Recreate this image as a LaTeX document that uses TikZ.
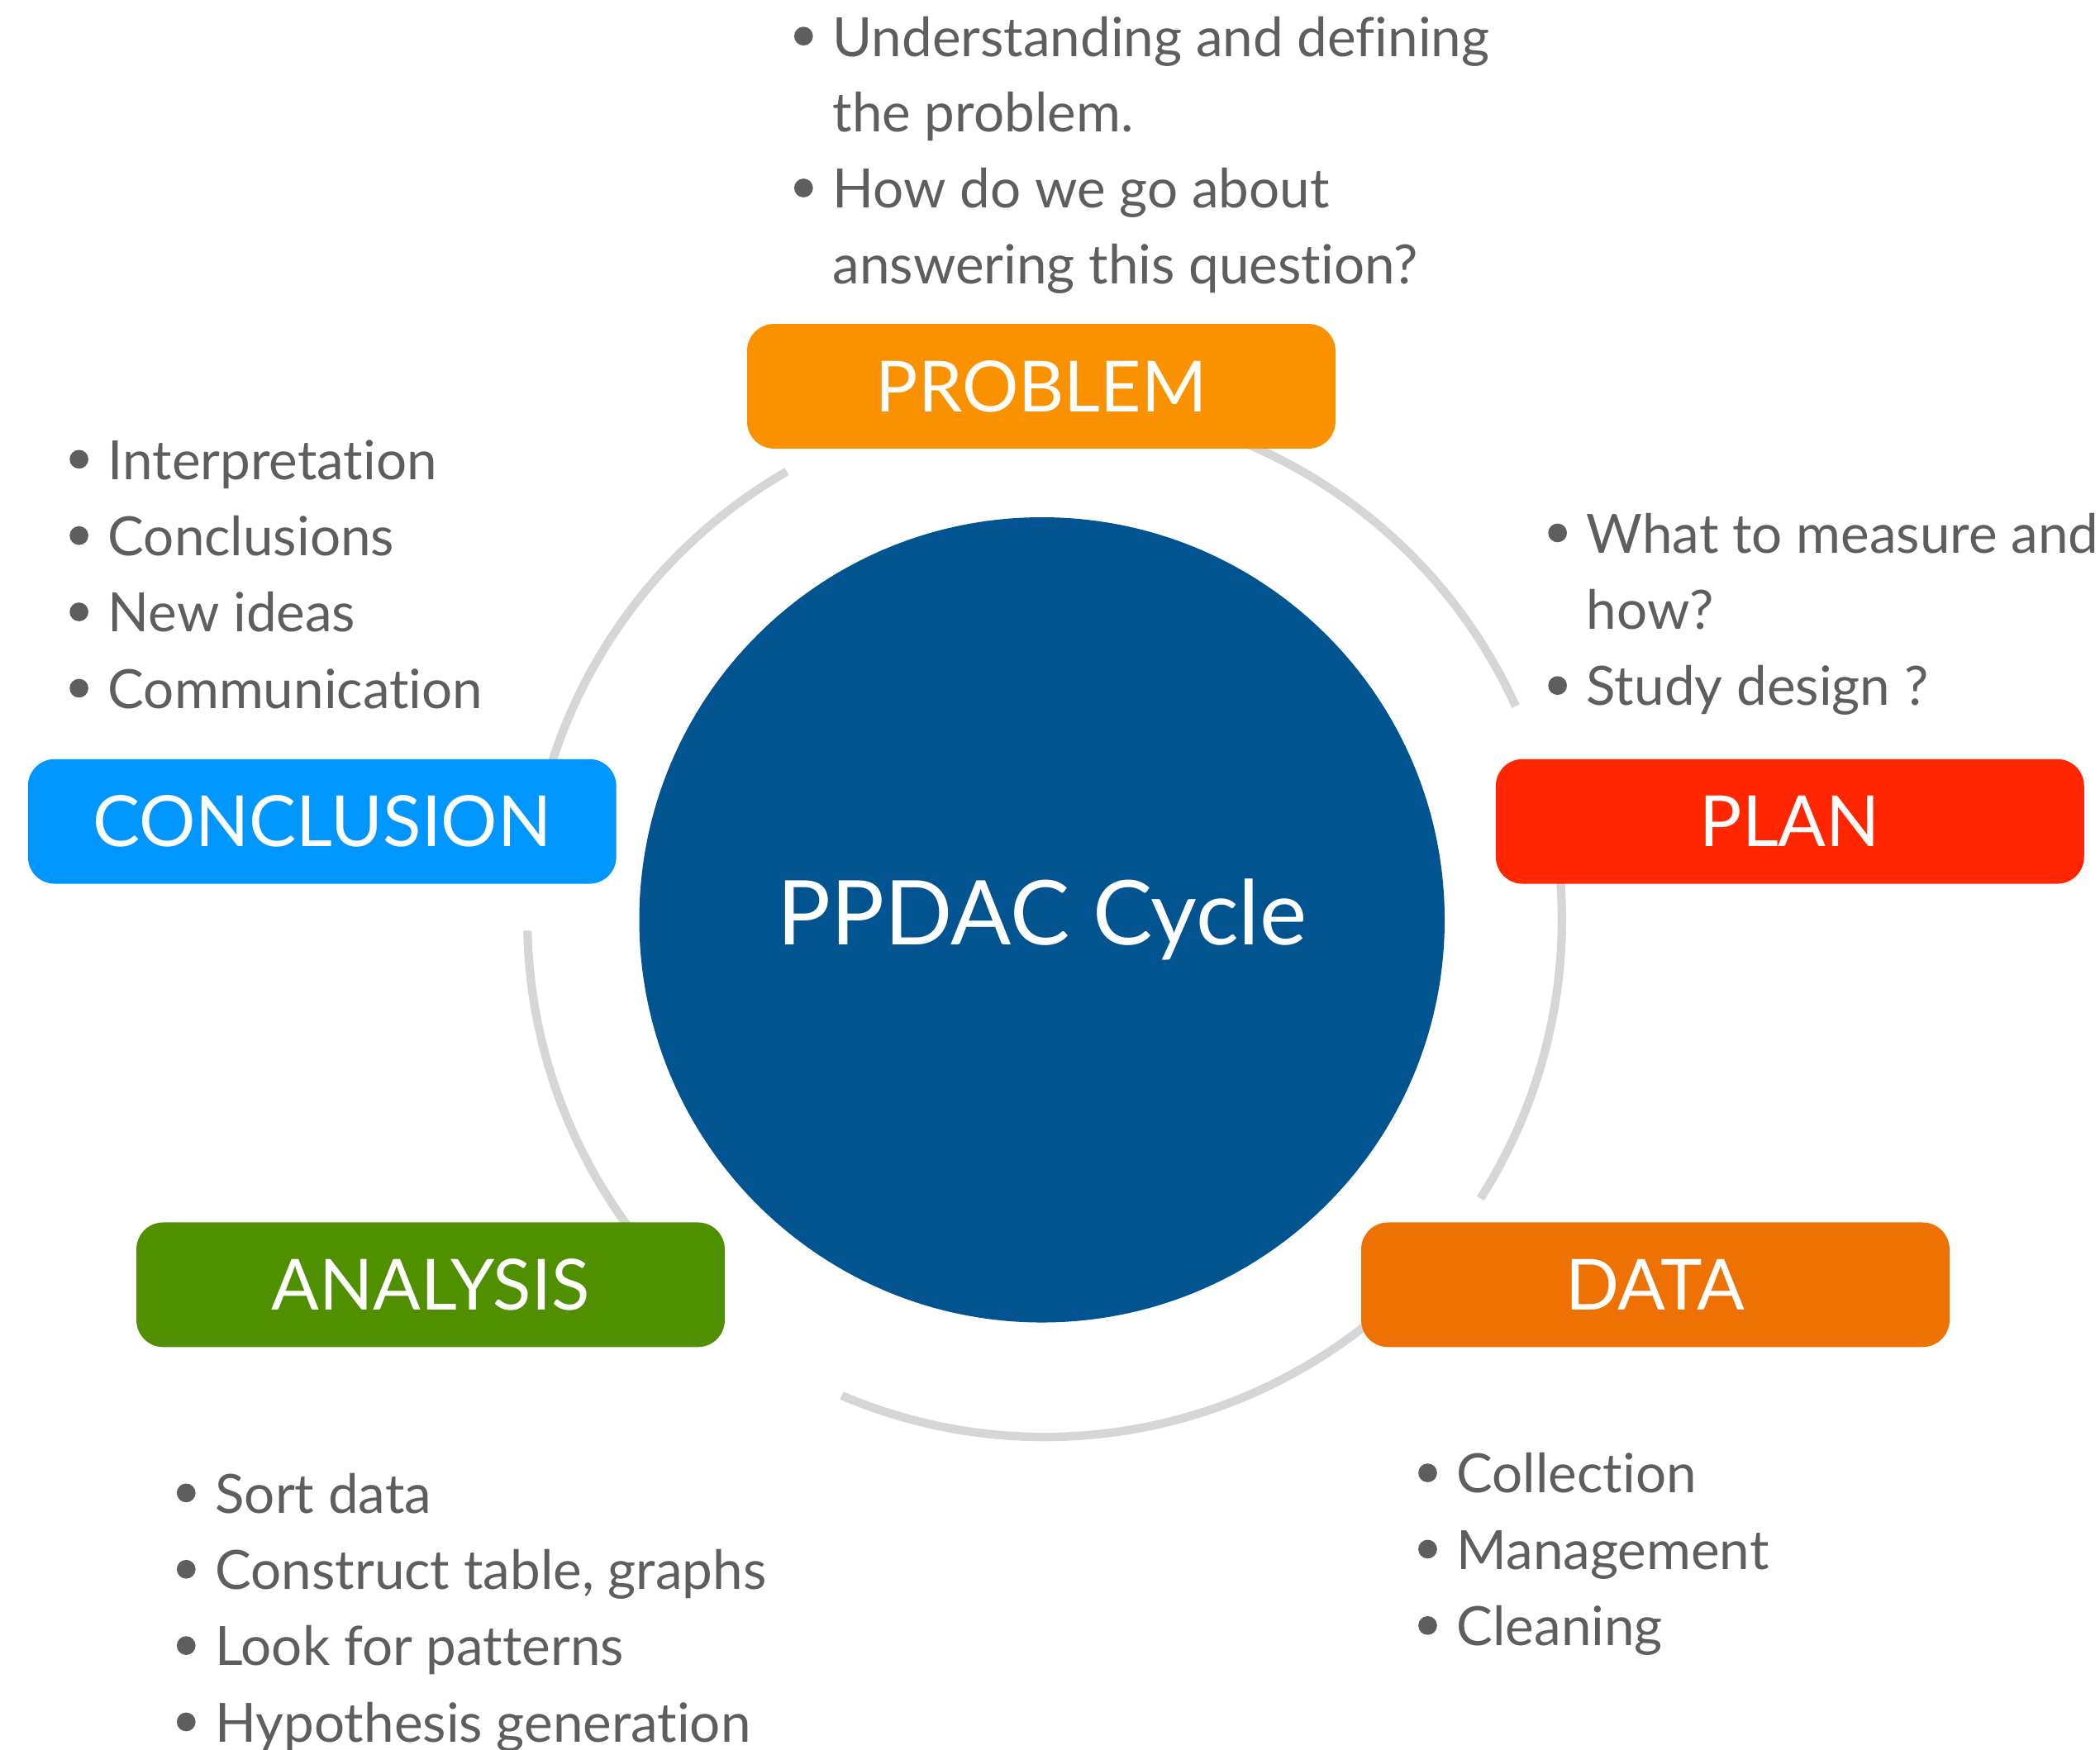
\documentclass[tikz,border=0pt]{standalone}
\usepackage{fontspec}
\setmainfont{Lato}[Ligatures = {NoCommon}]

\definecolor{hubblue}{HTML}{01548F}
\definecolor{probc}{HTML}{FA9200}
\definecolor{planc}{HTML}{FF2600}
\definecolor{datac}{HTML}{EE7203}
\definecolor{analc}{HTML}{4F8F00}
\definecolor{concc}{HTML}{0096FF}
\definecolor{ringc}{HTML}{D6D6D6}
\definecolor{notec}{HTML}{5E5E5E}

\tikzset{
	phase/.style = {rounded corners = 0.2cm, minimum width = 4.39cm, minimum height = 0.93cm, inner sep = 0, text = white, font = \fontsize{15}{18}\selectfont},
	ring/.style = {draw = ringc, line width = 1.8pt},
	item/.style = {anchor = base west, inner sep = 0, text = notec, font = \fontsize{11.5}{14}\selectfont},
	bulletdot/.style = {fill = notec}
}

\begin{document}
\begin{tikzpicture}[x = 0.01cm, y = 0.01cm]
	\useasboundingbox (0, 0) rectangle (1568, -1307);
	
	\coordinate (ringc) at (780, -687);
	\foreach \a/\b in {24.4/80, 119.9/170, 181.2/225, 246.9/315, 327.4/370}
		\draw [ring] ([shift = {(\a:3.86cm)}] ringc) arc [start angle = \a, end angle = \b, radius = 3.86cm];
	
	\node [circle, fill = hubblue, minimum size = 6.01cm, text = white, font = \fontsize{19}{23}\selectfont] (hub) at (778, -687) {PPDAC Cycle};
	
	\node [phase, fill = probc] (problem) at (777.5, -288.5) {PROBLEM};
	\node [phase, fill = planc] (plan) at (1336.5, -613.5) {PLAN};
	\node [phase, fill = datac] (data) at (1236, -959.5) {DATA};
	\node [phase, fill = analc] (analysis) at (321.5, -959.5) {ANALYSIS};
	\node [phase, fill = concc] (conclusion) at (240.5, -613.5) {CONCLUSION};
	
	% notes beside each phase
	\foreach \txt/\b [count = \i from 0] in {Understanding and defining/1, the problem./0, How do we go about/1, answering this question?/0} {
		\node [item] (probnote\i) at (621, {-42 - 56.7*\i}) {\txt};
		\ifnum\b=1 \fill [bulletdot] ([shift = {(-21, 15)}] probnote\i.base west) circle (0.07cm); \fi
	}
	\foreach \txt/\b [count = \i from 0] in {What to measure and/1, how?/0, Study design ?/1} {
		\node [item] (plannote\i) at (1184, {-413 - 57*\i}) {\txt};
		\ifnum\b=1 \fill [bulletdot] ([shift = {(-21, 15)}] plannote\i.base west) circle (0.07cm); \fi
	}
	\foreach \txt [count = \i from 0] in {Collection, Management, Cleaning} {
		\node [item] (datanote\i) at (1087, {-1115 - 57*\i}) {\txt};
		\fill [bulletdot] ([shift = {(-21, 15)}] datanote\i.base west) circle (0.07cm);
	}
	\foreach \txt [count = \i from 0] in {Sort data, {Construct table, graphs}, Look for patterns, Hypothesis generation} {
		\node [item] (analnote\i) at (160, {-1130 - 57*\i}) {\txt};
		\fill [bulletdot] ([shift = {(-21, 15)}] analnote\i.base west) circle (0.07cm);
	}
	\foreach \txt [count = \i from 0] in {Interpretation, Conclusions, New ideas, Communication} {
		\node [item] (concnote\i) at (80, {-358 - 57*\i}) {\txt};
		\fill [bulletdot] ([shift = {(-21, 15)}] concnote\i.base west) circle (0.07cm);
	}
\end{tikzpicture}
\end{document}
